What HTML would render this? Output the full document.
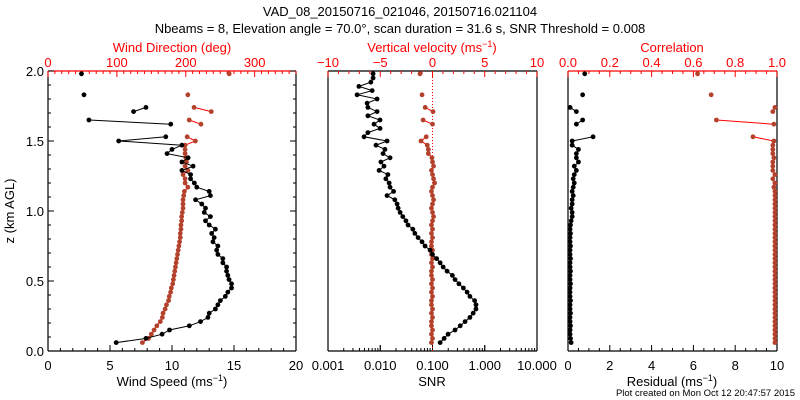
<!DOCTYPE html>
<html><head><meta charset="utf-8"><style>
html,body{margin:0;padding:0;background:#fff;}
svg{display:block;font-family:"Liberation Sans",sans-serif;}
</style></head><body>
<svg id="chart" width="800" height="400" xmlns="http://www.w3.org/2000/svg">
<text x="400" y="16" text-anchor="middle" font-size="13">VAD_08_20150716_021046, 20150716.021104</text>
<text x="400" y="33" text-anchor="middle" font-size="13">Nbeams = 8, Elevation angle = 70.0°, scan duration = 31.6 s, SNR Threshold = 0.008</text>
<text x="795" y="396" text-anchor="end" font-size="9.5">Plot created on Mon Oct 12 20:47:57 2015</text>
</svg>
<script>
// ---- data ----
const heights = [0.06,0.09,0.12,0.15,0.18,0.21,0.24,0.27,0.30,0.33,0.36,0.39,0.42,0.45,0.48,0.51,0.54,0.57,0.60,0.63,0.66,0.69,0.72,0.75,0.78,0.81,0.84,0.87,0.90,0.93,0.96,0.99,1.02,1.05,1.08,1.11,1.14,1.17,1.20,1.23,1.26,1.29,1.32,1.35,1.38,1.41,1.44,1.47,1.50,1.53,1.56,1.59,1.62,1.65,1.68,1.71,1.74,1.77,1.80,1.83,1.86,1.89,1.92,1.95,1.98];
const windSpeed = [5.5,7.9,9.2,9.8,11.4,12.3,12.9,13.0,13.5,13.7,13.9,14.3,14.5,14.8,14.8,14.6,14.5,14.4,14.4,14.1,14.1,13.7,13.6,13.7,13.3,13.4,13.2,13.5,13.0,12.7,13.1,12.6,12.7,12.4,11.9,13.1,13.0,12.0,11.8,11.5,11.5,10.8,11.7,10.8,11.3,9.6,10.0,10.8,5.7,9.5,null,null,9.9,3.3,null,6.9,7.9,null,null,2.9,null,null,null,null,2.7];
const windDir = [137,146,150,154,158,163,166,167,170,172,175,176,178,179,181,182,183,184,185,186,187,188,189,190,191,192,192,193,193,194,194,195,196,196,196,197,198,203,199,199,196,203,199,201,200,199,199,199,214,202,null,null,222,205,null,237,212,null,null,203,null,null,null,null,263];
const snr = [0.14,0.167,0.199,0.27,0.34,0.42,0.52,0.60,0.68,0.68,0.64,0.52,0.46,0.39,0.32,0.27,0.24,0.19,0.16,0.14,0.12,0.10,0.090,0.072,0.063,0.053,0.046,0.042,0.034,0.031,0.027,0.024,0.022,0.021,0.019,0.0135,0.018,0.0154,0.0148,0.0128,0.014,0.0095,0.0118,0.0103,0.0154,0.0113,0.0123,0.0083,0.0135,0.0049,0.0058,0.0099,0.0076,0.0099,0.0058,0.0087,0.0058,0.0056,0.0087,0.0036,0.0070,0.0039,0.0066,0.0073,0.0073];
const wVel = [-0.1,0,-0.1,0,-0.1,-0.1,0,-0.1,0,-0.1,-0.1,0,-0.1,0,-0.1,0,-0.1,-0.1,0,-0.1,0,-0.1,0,-0.1,-0.1,0,-0.1,0,-0.1,0,0.1,0,-0.1,0,0.1,0,-0.1,0,0.2,0.1,0,-0.1,0.1,0,-0.05,-0.4,-0.4,-0.5,-1.1,-0.6,null,null,0,-0.9,null,0.05,-0.7,null,null,-1.0,null,null,null,null,-1.2];
const residual = [0.15,0.12,0.1,0.1,0.12,0.1,0.1,0.12,0.1,0.1,0.12,0.1,0.1,0.1,0.12,0.1,0.1,0.12,0.1,0.1,0.12,0.1,0.1,0.12,0.1,0.1,0.12,0.1,0.12,0.15,0.2,0.2,0.15,0.2,0.2,0.25,0.2,0.25,0.3,0.25,0.3,0.4,0.3,0.5,0.4,0.4,0.5,0.2,0.2,1.2,null,null,0.4,0.7,null,0.4,0.1,null,null,0.7,null,null,null,null,0.8];
const correlation = [0.99,0.99,0.99,0.99,0.99,0.99,0.99,0.99,0.99,0.99,0.99,0.99,0.99,0.99,0.99,0.99,0.99,0.99,0.99,0.99,0.99,0.99,0.99,0.99,0.99,0.99,0.99,0.99,0.99,0.99,0.99,0.99,0.99,0.99,0.99,0.99,0.99,0.985,0.99,0.98,0.99,0.98,0.98,0.98,0.985,0.98,0.98,0.98,0.985,0.885,null,null,0.985,0.71,null,0.98,0.99,null,null,0.685,null,null,null,null,0.62];
const zTicks = [0,0.5,1.0,1.5,2.0];
const speedTicks = [0,5,10,15,20];
const dirTicks = [0,100,200,300];
const velTicks = [-10,-5,0,5,10];
const snrTicks = [0.001,0.01,0.1,1,10];
const snrLabels = ["0.001","0.010","0.100","1.000","10.000"];
const corrTicks = [0,0.2,0.4,0.6,0.8,1.0];
const resTicks = [0,2,4,6,8,10];

// ---- geometry ----
const TOP=71, BOT=351;
const P1={l:48,r:296}, P2={l:328,r:537}, P3={l:568,r:777};
const yZ = z => BOT - (z/2.0)*(BOT-TOP);
const lin = (p,a,b) => v => p.l + (v-a)/(b-a)*(p.r-p.l);
const xSpeed = lin(P1,0,20), xDir = lin(P1,0,360);
const xVel = lin(P2,-10,10);
const xSnr = v => P2.l + (Math.log10(v)+3)/4*(P2.r-P2.l);
const xCorr = lin(P3,0,1), xRes = lin(P3,0,10);
const RED='#ff0000', MRK='#b4412b';
const svg=document.getElementById('chart');
const NS='http://www.w3.org/2000/svg';
function mk(tag,attrs,parent){const e=document.createElementNS(NS,tag);for(const k in attrs)e.setAttribute(k,attrs[k]);(parent||svg).appendChild(e);return e;}

function frame(p,name,topColor){
  const g=mk('g',{});
  
  
  mk('line',{x1:p.l,y1:BOT,x2:p.r,y2:BOT,stroke:'#000','stroke-width':1.2},g);
  mk('line',{x1:p.l,y1:TOP,x2:p.l,y2:BOT,stroke:'#000','stroke-width':1.2},g);
  mk('line',{x1:p.r,y1:TOP,x2:p.r,y2:BOT,stroke:'#000','stroke-width':1.2},g);
  mk('line',{x1:p.l,y1:TOP,x2:p.r,y2:TOP,stroke:topColor,'stroke-width':1.2},g);
}
function hTicks(fn,from,to,step,majEvery,y,dir,color,name){
  const g=mk('g',{});
  
  
  const n=Math.round((to-from)/step);
  for(let i=0;i<=n;i++){const v=from+i*step;const x=fn(v);const len=(i%majEvery===0)?6:3;
    mk('line',{x1:x,y1:y,x2:x,y2:y+dir*len,stroke:color,'stroke-width':1},g);}
}
function label(x,y,t,color,anchor,name,size){
  const e=mk('text',{x:x,y:y,'text-anchor':anchor||'middle','font-size':size||13,fill:color||'#000'});
  e.textContent=t;
  
  
  return e;
}

// frames
frame(P1,'wind-panel',RED);
frame(P2,'snr-panel','#000');
frame(P3,'residual-panel',RED);

// panel 1 y ticks
{const g=mk('g',{});
 
 
 for(let i=0;i<=20;i++){const z=i*0.1;const y=yZ(z);const len=(i%5===0)?6:3;
   mk('line',{x1:P1.l,y1:y,x2:P1.l+len,y2:y,stroke:'#000'},g);
   mk('line',{x1:P1.r,y1:y,x2:P1.r-len,y2:y,stroke:'#000'},g);}
}
zTicks.forEach(z=>label(44,yZ(z)+5,z.toFixed(1),'#000','end','z-tick-label'));
{const t=label(14,211,'z (km AGL)','#000','middle','y-axis-title');t.setAttribute('transform','rotate(-90 14 211)');}

// panel 1 x axes
hTicks(xSpeed,0,20,1,5,BOT,-1,'#000','speed-axis-ticks');
speedTicks.forEach(v=>label(xSpeed(v),370,String(v),'#000','middle','speed-tick-label'));
{const t=label(172,386,'','#000','middle','speed-axis-title');t.innerHTML='Wind Speed (ms<tspan dy="-5" font-size="9">−1</tspan><tspan dy="5">)</tspan>';}
hTicks(xDir,0,360,10,10,TOP,1,RED,'direction-axis-ticks');
dirTicks.forEach(v=>label(xDir(v),67,String(v),RED,'middle','direction-tick-label'));
label(172,52,'Wind Direction (deg)',RED,'middle','direction-axis-title');

// panel 2 axes
hTicks(xVel,-10,10,1,5,TOP,1,RED,'velocity-axis-ticks');
velTicks.forEach(v=>label(xVel(v),67,v<0?'−'+Math.abs(v):String(v),RED,'middle','velocity-tick-label'));
{const t=label(432,52,'','#ff0000','middle','velocity-axis-title');t.innerHTML='Vertical velocity (ms<tspan dy="-5" font-size="9">−1</tspan><tspan dy="5">)</tspan>';}
{const g=mk('g',{});
 
 
 for(let d=-3;d<1;d++){for(let m=1;m<=10;m++){const v=m*Math.pow(10,d);const x=xSnr(v);const len=(m===1||m===10)?6:3;
   mk('line',{x1:x,y1:BOT,x2:x,y2:BOT-len,stroke:'#000'},g);}}
}
snrTicks.forEach((v,i)=>label(xSnr(v),370,snrLabels[i],'#000','middle','snr-tick-label'));
label(432,386,'SNR','#000','middle','snr-axis-title');
{const zl=mk('line',{x1:xVel(0),y1:TOP,x2:xVel(0),y2:BOT,stroke:RED,'stroke-dasharray':'1,2','stroke-width':1});
 
 }

// panel 3 axes
hTicks(xCorr,0,1,0.05,4,TOP,1,RED,'correlation-axis-ticks');
corrTicks.forEach(v=>label(xCorr(v),67,v.toFixed(1),RED,'middle','correlation-tick-label'));
label(672,52,'Correlation',RED,'middle','correlation-axis-title');
hTicks(xRes,0,10,0.5,4,BOT,-1,'#000','residual-axis-ticks');
resTicks.forEach(v=>label(xRes(v),370,String(v),'#000','middle','residual-tick-label'));
{const t=label(672,386,'','#000','middle','residual-axis-title');t.innerHTML='Residual (ms<tspan dy="-5" font-size="9">−1</tspan><tspan dy="5">)</tspan>';}

// series
function series(vals,xf,lineColor,markColor,name){
  const g=mk('g',{});
  
  
  let d='';let pen=false;
  vals.forEach((v,i)=>{if(v===null){pen=false;return;}
    const x=xf(v),y=yZ(heights[i]);d+=(pen?'L':'M')+x.toFixed(1)+' '+y.toFixed(1);pen=true;});
  mk('path',{d:d,fill:'none',stroke:lineColor,'stroke-width':1},g);
  vals.forEach((v,i)=>{if(v===null)return;
    const c=mk('circle',{cx:xf(v),cy:yZ(heights[i]),r:2.4,fill:markColor},g);
    
    });
}
series(windDir,xDir,RED,MRK,'wind-direction-series');
series(windSpeed,xSpeed,'#000','#000','wind-speed-series');
series(wVel,xVel,RED,MRK,'vertical-velocity-series');
series(snr,xSnr,'#000','#000','snr-series');
series(correlation,xCorr,RED,MRK,'correlation-series');
series(residual,xRes,'#000','#000','residual-series');
</script>
</body></html>
